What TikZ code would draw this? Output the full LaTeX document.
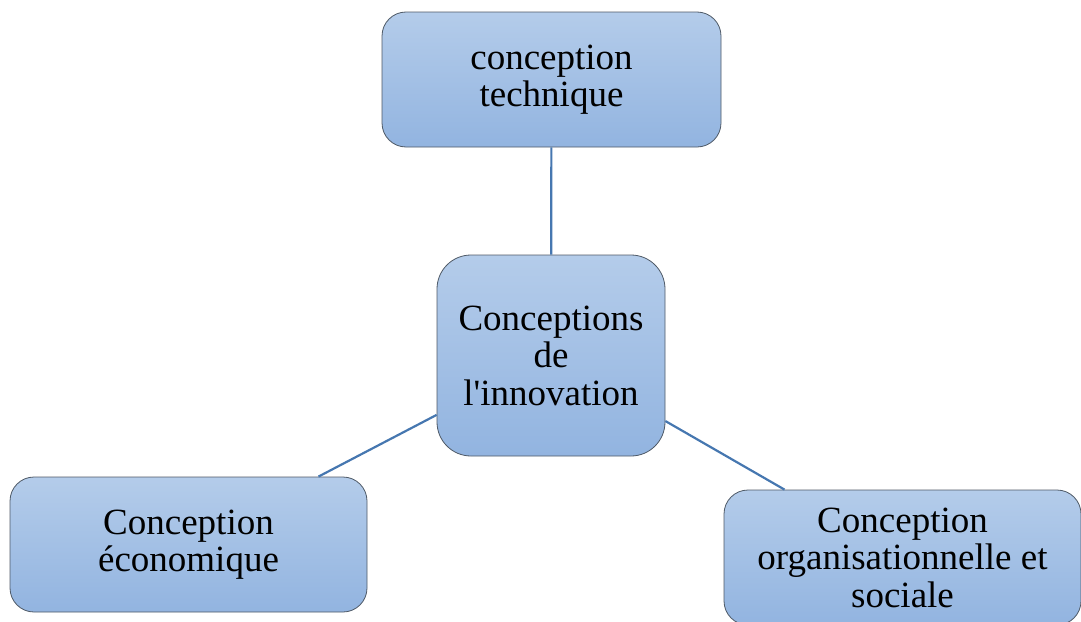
\documentclass[tikz,border=0pt]{standalone}
\usepackage{fontspec}
\setmainfont{Liberation Serif}
\usepackage{xcolor}
\definecolor{boxtop}{HTML}{B4CCEA}
\definecolor{boxbottom}{HTML}{92B4E0}
\definecolor{boxedge}{HTML}{4E5966}
\definecolor{linkblue}{HTML}{4677B0}
\usetikzlibrary{positioning}

\begin{document}
\begin{tikzpicture}[x=1pt, y=-1pt,
    concept/.style={draw=boxedge, line width=0.8pt, top color=boxtop, bottom color=boxbottom,
      align=center, inner sep=0pt, text=black, font=\fontsize{37}{37.5}\selectfont},
    link/.style={linkblue, line width=2.2pt}]
  \useasboundingbox (0,0) rectangle (1081,621);
  \clip (0,0) rectangle (1081,621);

  % boxes
  \node[concept, rounded corners=24pt, minimum width=339pt, minimum height=135pt] (tech) at (551.5,79.5) {conception\\technique};
  \node[concept, rounded corners=34pt, minimum width=228pt, minimum height=201pt] (innov) at (551,355.5) {Conceptions\\de\\l\textquotesingle innovation};
  \node[concept, rounded corners=24pt, minimum width=357pt, minimum height=135pt] (eco) at (188.5,544.5) {Conception\\économique};
  \node[concept, rounded corners=24pt, minimum width=357pt, minimum height=135pt] (orga) at (902.5,557.5) {Conception\\organisationnelle et\\sociale};

  % links
  \draw[link] (innov) -- (tech);
  \draw[link] (innov) -- (eco);
  \draw[link] (innov) -- (orga);
\end{tikzpicture}
\end{document}
